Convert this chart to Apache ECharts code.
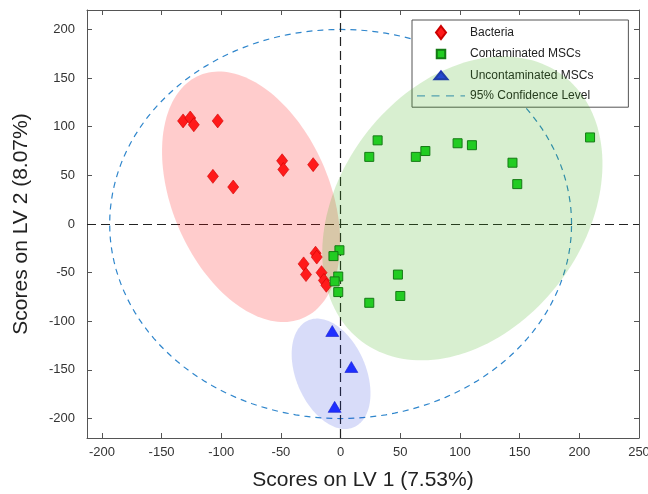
<!DOCTYPE html>
<html><head><meta charset="utf-8">
<script src="https://cdn.jsdelivr.net/npm/echarts@6/dist/echarts.min.js"></script>
<style>html,body{margin:0;padding:0;background:#fff}#c{width:648px;height:494px}</style>
</head><body><div id="c"></div>
<script>
const xTicks = [-200, -150, -100, -50, 0, 50, 100, 150, 200, 250];
const yTicks = [-200, -150, -100, -50, 0, 50, 100, 150, 200];

const bacteriaX = [-132, -126, -123, -103, -107, -90, -49, -48, -23, -21, -20, -31, -29, -16, -14, -12];
const bacteriaY = [106, 109, 102, 106, 49, 38, 65, 56, 61, -30, -34, -41, -52, -50, -58, -63];

const contaminatedX = [31, 24, 63, 71, 98, 110, 144, 148, 209, -1, -6, -2, -5, -2, 48, 50, 24];
const contaminatedY = [86, 69, 69, 75, 83, 81, 63, 41, 89, -27, -33, -54, -59, -70, -52, -74, -81];

const uncontaminatedX = [-7, 9, -5];
const uncontaminatedY = [-110, -147, -188];

// group confidence ellipses: center and two conjugate semi-axis vectors (data units)
const regionCenter = [[-75, 28], [102, 16], [-8, -154]];
const regionAxisU = [[43, -125], [84, 137], [19, -55]];
const regionAxisV = [[-61, -31], [82, -75], [-27, -14]];

// 95% confidence level (center, radii)
const confCenter = [0, 0];
const confRadii = [193.5, 200];

const FONT = "'Liberation Sans', Arial, sans-serif";
const regionFills = ['rgba(255,0,0,0.2)', 'rgba(60,175,20,0.2)', 'rgba(40,60,220,0.18)'];

// legend icons (bounding boxes padded with bare move-to points)
const ICON_DIAMOND = 'path://M5,0L10,6.5L5,13L0,6.5Z';
const ICON_SQUARE = 'path://M0,0M0,2.25L8.5,2.25L8.5,10.75L0,10.75ZM0,13';
const ICON_TRIANGLE = 'path://M0,0M6.5,2.5L13,10.5L0,10.5ZM0,13';
const ICON_DASH = 'path://M0,0M0,6L8,6L8,7.3L0,7.3ZM14.5,6L22.5,6L22.5,7.3L14.5,7.3ZM29,6L37,6L37,7.3L29,7.3ZM43.5,6L48,6L48,7.3L43.5,7.3ZM0,13';

function zip(a, b) { return a.map((v, i) => [v, b[i]]); }

function ellipsePts(api, cx, cy, ux, uy, vx, vy) {
  const pts = [];
  for (let i = 0; i <= 160; i++) {
    const t = i / 160 * 2 * Math.PI;
    pts.push(api.coord([cx + ux * Math.cos(t) + vx * Math.sin(t), cy + uy * Math.cos(t) + vy * Math.sin(t)]));
  }
  return pts;
}

const axisCommon = {
  type: 'value',
  axisLine: { onZero: false, lineStyle: { color: '#555', width: 1 } },
  splitLine: { show: false }
};

const chart = echarts.init(document.getElementById('c'));
chart.setOption({
  animation: false,
  backgroundColor: '#fff',
  grid: { left: 87, right: 9, top: 10, bottom: 56, containLabel: false, outerBoundsMode: 'none' },
  xAxis: [
    Object.assign({}, axisCommon, {
      min: -212.5, max: 250, position: 'bottom',
      axisTick: { inside: true, length: 5, customValues: xTicks, lineStyle: { color: '#555' } },
      axisLabel: { customValues: xTicks, margin: 8, fontSize: 13, color: '#333', fontFamily: FONT },
      name: 'Scores on LV 1 (7.53%)', nameLocation: 'middle', nameGap: 32,
      nameTextStyle: { fontSize: 21, color: '#222', fontFamily: FONT }
    }),
    Object.assign({}, axisCommon, {
      min: -212.5, max: 250, position: 'top',
      axisTick: { inside: true, length: 5, customValues: xTicks, lineStyle: { color: '#555' } },
      axisLabel: { show: false }
    })
  ],
  yAxis: [
    Object.assign({}, axisCommon, {
      min: -220, max: 220, position: 'left',
      axisTick: { inside: true, length: 5, customValues: yTicks, lineStyle: { color: '#555' } },
      axisLabel: { customValues: yTicks, margin: 12, fontSize: 13, color: '#333', fontFamily: FONT },
      name: 'Scores on LV 2 (8.07%)', nameLocation: 'middle', nameGap: 55,
      nameTextStyle: { fontSize: 21, color: '#222', fontFamily: FONT }
    }),
    Object.assign({}, axisCommon, {
      min: -220, max: 220, position: 'right',
      axisTick: { inside: true, length: 5, customValues: yTicks, lineStyle: { color: '#555' } },
      axisLabel: { show: false }
    })
  ],
  legend: {
    data: [
      { name: 'Bacteria', icon: ICON_DIAMOND },
      { name: 'Contaminated MSCs', icon: ICON_SQUARE },
      { name: 'Uncontaminated MSCs', icon: ICON_TRIANGLE },
      { name: '95% Confidence Level', icon: ICON_DASH }
    ],
    orient: 'vertical', left: 412, top: 20, zlevel: 1, z: 2,
    padding: [5, 35, 5, 5],
    itemWidth: 48, itemHeight: 13, itemGap: 6.4,
    symbolKeepAspect: true,
    borderColor: '#555', borderWidth: 1, backgroundColor: '#fff',
    selectedMode: false,
    textStyle: { fontSize: 12, color: '#222', fontFamily: FONT }
  },
  series: [
    {
      type: 'custom', name: 'confidence', zlevel: 0, z: 1, silent: true, clip: true,
      encode: { x: 0, y: 1 },
      data: [[confCenter[0], confCenter[1], confRadii[0], 0, 0, confRadii[1]]],
      renderItem: function (params, api) {
        const pts = ellipsePts(api, api.value(0), api.value(1), api.value(2), api.value(3), api.value(4), api.value(5));
        return { type: 'polyline', shape: { points: pts }, style: { fill: null, stroke: '#2f86cc', lineWidth: 1.2, lineDash: [6, 5] } };
      }
    },
    {
      type: 'custom', name: 'regions', zlevel: 2, z: 3, silent: true, clip: true,
      encode: { x: 0, y: 1 },
      data: regionCenter.map((c, i) => [c[0], c[1], regionAxisU[i][0], regionAxisU[i][1], regionAxisV[i][0], regionAxisV[i][1]]),
      renderItem: function (params, api) {
        const pts = ellipsePts(api, api.value(0), api.value(1), api.value(2), api.value(3), api.value(4), api.value(5));
        return { type: 'polygon', shape: { points: pts }, style: { fill: regionFills[params.dataIndex], stroke: null } };
      }
    },
    {
      type: 'scatter', name: '95% Confidence Level', data: [], zlevel: 2, z: 4,
      itemStyle: { color: '#2f86cc' },
      markLine: {
        silent: true, symbol: 'none', label: { show: false },
        lineStyle: { color: '#222', type: [9, 5], width: 1.2 },
        data: [{ xAxis: 0 }, { yAxis: 0 }]
      }
    },
    {
      type: 'scatter', name: 'Bacteria', zlevel: 2, z: 5, symbol: 'diamond', symbolSize: [11, 14],
      data: zip(bacteriaX, bacteriaY),
      itemStyle: { color: '#ff1a1a', borderColor: '#cc0000', borderWidth: 0.6, opacity: 1 }
    },
    {
      type: 'scatter', name: 'Contaminated MSCs', zlevel: 2, z: 5, symbol: 'rect', symbolSize: 9,
      data: zip(contaminatedX, contaminatedY),
      itemStyle: { color: '#22cc22', borderColor: '#157a15', borderWidth: 1, opacity: 1 }
    },
    {
      type: 'scatter', name: 'Uncontaminated MSCs', zlevel: 2, z: 5, symbol: 'triangle', symbolSize: [13, 11],
      data: zip(uncontaminatedX, uncontaminatedY),
      itemStyle: { color: '#1f2fff', borderColor: '#1a22cc', borderWidth: 0.6, opacity: 1 }
    }
  ]
});
</script></body></html>
